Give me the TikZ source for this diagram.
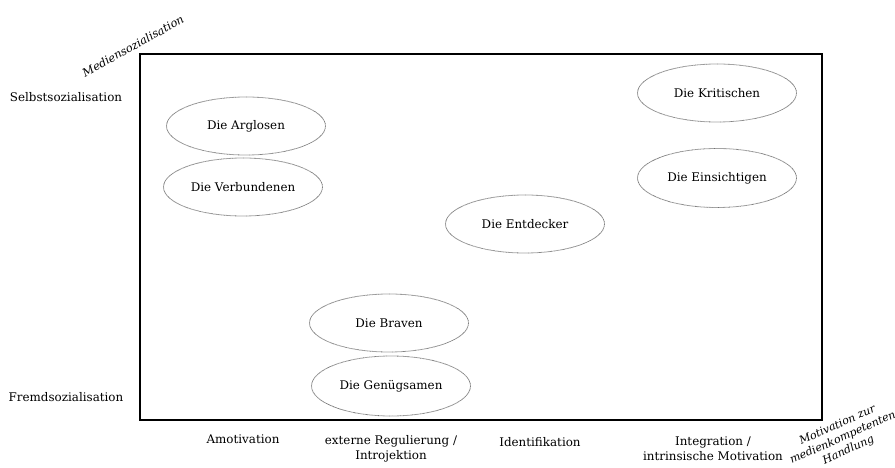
\documentclass[tikz,border=0pt]{standalone}
\usepackage{fontspec}
\setmainfont{DejaVu Serif}
\usetikzlibrary{shapes.geometric}
\begin{document}
\begin{tikzpicture}[x=1pt,y=-1pt,
  typ/.style={ellipse,draw=black!55,line width=0.8pt,dash pattern=on 0.6pt off 0.5pt,
    minimum width=159pt,minimum height=58pt,inner sep=0pt,font=\fontsize{11.9}{13}\selectfont},
  lab/.style={font=\fontsize{11.9}{15}\selectfont,align=center,inner sep=0pt},
  rlab/.style={font=\fontsize{11.3}{12}\selectfont\itshape,align=center,inner sep=0pt}]
\useasboundingbox (0,0) rectangle (895,468);
\node[draw,line width=2pt,minimum width=682pt,minimum height=365pt,inner sep=0pt] (box) at (481,237) {};
\node[typ] (arg) at (246,126) {Die Arglosen};
\node[typ] (verb) at (243,187) {Die Verbundenen};
\node[typ] (brav) at (389,323) {Die Braven};
\node[typ,minimum height=60pt] (gen) at (391,386) {Die Genügsamen};
\node[typ] (krit) at (717,93) {Die Kritischen};
\node[typ,minimum height=59pt] (eins) at (717,178) {Die Einsichtigen};
\node[typ] (entd) at (525,224) {Die Entdecker};
\node[lab] (selbst) at (66,97) {Selbstsozialisation};
\node[lab] (fremd) at (66,397) {Fremdsozialisation};
\node[rlab,rotate=29] (med) at (133,46) {Mediensozialisation};
\node[lab] (amo) at (243,439) {Amotivation};
\node[lab] (ext) at (391,449) {externe Regulierung /\\Introjektion};
\node[lab] (ident) at (540,442) {Identifikation};
\node[lab] (integ) at (713,449) {Integration /\\intrinsische Motivation};
\node[rlab,rotate=24,font=\fontsize{11}{13.5}\selectfont\itshape] (mot) at (843,438) {Motivation zur\\medienkompetenten\\Handlung};
\end{tikzpicture}
\end{document}
